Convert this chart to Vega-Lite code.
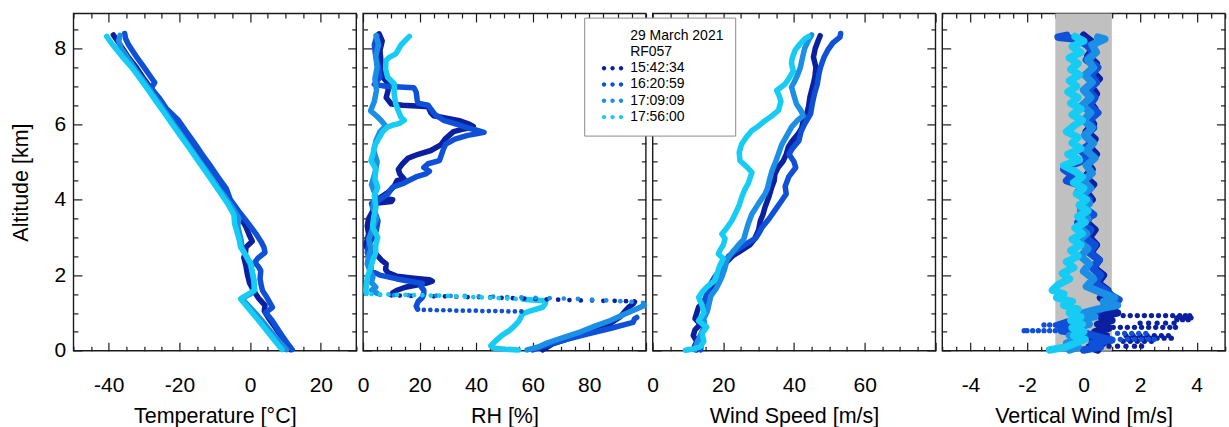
{
"$schema": "https://vega.github.io/schema/vega-lite/v6.json",
"padding": {"left": 9.4, "top": 11.4, "right": 2, "bottom": 2},
"bounds": "flush",
"spacing": 6.6,
"resolve": {"scale": {"color": "shared"}, "legend": {"color": "shared"}},
"config": {
 "view": {"stroke": "#1a1a1a", "strokeWidth": 1.4},
 "font": "Liberation Sans",
 "axis": {"grid": false, "domain": false, "labelFont": "Liberation Sans", "labelFontSize": 21, "labelColor": "#000", "titleFont": "Liberation Sans", "titleFontSize": 21.5, "titleFontWeight": "normal", "titleColor": "#000", "tickColor": "#1a1a1a", "tickWidth": 1.2, "labelFlush": false, "labelOverlap": false},
 "legend": {"orient": "none", "legendX": 510.8, "legendY": 4.2, "padding": 11, "strokeColor": "#8c8c8c", "fillColor": "#ffffff", "labelFont": "Liberation Sans", "labelFontSize": 14, "labelColor": "#000", "symbolType": "M-0.824,0A0.17,0.17,0,1,0,-0.484,0A0.17,0.17,0,1,0,-0.824,0ZM-0.17,0A0.17,0.17,0,1,0,0.17,0A0.17,0.17,0,1,0,-0.17,0ZM0.484,0A0.17,0.17,0,1,0,0.824,0A0.17,0.17,0,1,0,0.484,0Z", "symbolSize": 676, "symbolStrokeWidth": 0, "symbolOffset": 4.35, "labelOffset": 4.6, "clipHeight": 14, "rowPadding": 2.3}
},
"datasets": {
"T": [
{"k":"a","z":8.36,"v":-38.7},{"k":"a","z":8.1,"v":-36.8},{"k":"a","z":7.8,"v":-34.7},{"k":"a","z":7.5,"v":-32.2},{"k":"a","z":7.2,"v":-30.1},{"k":"a","z":6.9,"v":-27.7},{"k":"a","z":6.6,"v":-25.6},{"k":"a","z":6.3,"v":-23.1},{"k":"a","z":6.0,"v":-21.1},{"k":"a","z":5.7,"v":-18.6},{"k":"a","z":5.4,"v":-16.5},{"k":"a","z":5.1,"v":-14.0},{"k":"a","z":4.8,"v":-11.9},{"k":"a","z":4.5,"v":-9.7},{"k":"a","z":4.2,"v":-7.5},{"k":"a","z":3.9,"v":-5.3},{"k":"a","z":3.6,"v":-3.2},{"k":"a","z":3.3,"v":-1.3},{"k":"a","z":3.05,"v":-0.2},{"k":"a","z":2.9,"v":0.6},{"k":"a","z":2.74,"v":-1.2},{"k":"a","z":2.6,"v":-1.3},{"k":"a","z":2.47,"v":-1.8},{"k":"a","z":2.25,"v":-1.2},{"k":"a","z":2.03,"v":-0.8},{"k":"a","z":1.8,"v":-0.2},{"k":"a","z":1.6,"v":0.9},{"k":"a","z":1.4,"v":2.3},{"k":"a","z":1.2,"v":4.2},{"k":"a","z":1.05,"v":4.0},{"k":"a","z":0.85,"v":5.3},{"k":"a","z":0.6,"v":7.2},{"k":"a","z":0.4,"v":8.6},{"k":"a","z":0.2,"v":10.0},{"k":"a","z":0.03,"v":11.4},
{"k":"b","z":8.4,"v":-35.5},{"k":"b","z":8.25,"v":-35.2},{"k":"b","z":8.1,"v":-34.4},{"k":"b","z":7.8,"v":-32.3},{"k":"b","z":7.5,"v":-30.0},{"k":"b","z":7.3,"v":-28.5},{"k":"b","z":7.1,"v":-27.0},{"k":"b","z":6.95,"v":-28.0},{"k":"b","z":6.7,"v":-25.8},{"k":"b","z":6.4,"v":-23.6},{"k":"b","z":6.1,"v":-20.3},{"k":"b","z":5.8,"v":-18.1},{"k":"b","z":5.5,"v":-15.8},{"k":"b","z":5.2,"v":-13.6},{"k":"b","z":4.9,"v":-11.3},{"k":"b","z":4.6,"v":-9.1},{"k":"b","z":4.3,"v":-6.8},{"k":"b","z":4.0,"v":-5.6},{"k":"b","z":3.7,"v":-3.3},{"k":"b","z":3.4,"v":-0.8},{"k":"b","z":3.1,"v":1.6},{"k":"b","z":2.9,"v":3.0},{"k":"b","z":2.74,"v":3.9},{"k":"b","z":2.6,"v":4.2},{"k":"b","z":2.45,"v":2.2},{"k":"b","z":2.34,"v":1.3},{"k":"b","z":2.2,"v":2.5},{"k":"b","z":2.12,"v":3.0},{"k":"b","z":1.9,"v":2.8},{"k":"b","z":1.7,"v":3.2},{"k":"b","z":1.59,"v":3.5},{"k":"b","z":1.4,"v":4.8},{"k":"b","z":1.15,"v":6.3},{"k":"b","z":1.01,"v":4.4},{"k":"b","z":0.8,"v":6.2},{"k":"b","z":0.6,"v":7.6},{"k":"b","z":0.4,"v":9.0},{"k":"b","z":0.2,"v":10.5},{"k":"b","z":0.03,"v":11.9},
{"k":"c","z":8.35,"v":-36.8},{"k":"c","z":8.2,"v":-37.2},{"k":"c","z":8.0,"v":-36.5},{"k":"c","z":7.7,"v":-34.3},{"k":"c","z":7.4,"v":-32.1},{"k":"c","z":7.1,"v":-29.8},{"k":"c","z":6.8,"v":-27.6},{"k":"c","z":6.5,"v":-25.3},{"k":"c","z":6.2,"v":-23.1},{"k":"c","z":5.9,"v":-20.8},{"k":"c","z":5.6,"v":-18.6},{"k":"c","z":5.3,"v":-16.3},{"k":"c","z":5.0,"v":-14.1},{"k":"c","z":4.7,"v":-11.8},{"k":"c","z":4.4,"v":-9.6},{"k":"c","z":4.1,"v":-7.3},{"k":"c","z":3.8,"v":-5.1},{"k":"c","z":3.5,"v":-3.2},{"k":"c","z":3.3,"v":-3.5},{"k":"c","z":3.1,"v":-3.0},{"k":"c","z":2.9,"v":-2.5},{"k":"c","z":2.74,"v":-2.4},{"k":"c","z":2.5,"v":-1.2},{"k":"c","z":2.3,"v":0.0},{"k":"c","z":2.1,"v":0.5},{"k":"c","z":1.85,"v":1.0},{"k":"c","z":1.6,"v":1.3},{"k":"c","z":1.5,"v":0.0},{"k":"c","z":1.42,"v":-1.6},{"k":"c","z":1.37,"v":-2.3},{"k":"c","z":1.2,"v":-0.6},{"k":"c","z":1.0,"v":1.4},{"k":"c","z":0.8,"v":3.3},{"k":"c","z":0.6,"v":5.0},{"k":"c","z":0.4,"v":6.8},{"k":"c","z":0.2,"v":8.6},{"k":"c","z":0.03,"v":10.3},
{"k":"d","z":8.32,"v":-40.6},{"k":"d","z":8.1,"v":-38.9},{"k":"d","z":7.8,"v":-36.3},{"k":"d","z":7.5,"v":-33.5},{"k":"d","z":7.2,"v":-31.1},{"k":"d","z":6.9,"v":-28.8},{"k":"d","z":6.6,"v":-26.6},{"k":"d","z":6.3,"v":-24.3},{"k":"d","z":6.0,"v":-22.1},{"k":"d","z":5.7,"v":-19.8},{"k":"d","z":5.4,"v":-17.5},{"k":"d","z":5.1,"v":-15.3},{"k":"d","z":4.8,"v":-13.0},{"k":"d","z":4.5,"v":-10.8},{"k":"d","z":4.2,"v":-8.6},{"k":"d","z":3.9,"v":-6.4},{"k":"d","z":3.6,"v":-4.6},{"k":"d","z":3.36,"v":-4.4},{"k":"d","z":3.1,"v":-3.6},{"k":"d","z":2.9,"v":-3.0},{"k":"d","z":2.74,"v":-2.7},{"k":"d","z":2.5,"v":-1.0},{"k":"d","z":2.3,"v":0.2},{"k":"d","z":2.1,"v":0.6},{"k":"d","z":1.85,"v":1.1},{"k":"d","z":1.6,"v":1.2},{"k":"d","z":1.5,"v":-0.5},{"k":"d","z":1.42,"v":-2.0},{"k":"d","z":1.37,"v":-2.7},{"k":"d","z":1.2,"v":-1.2},{"k":"d","z":1.0,"v":0.6},{"k":"d","z":0.8,"v":2.4},{"k":"d","z":0.6,"v":4.1},{"k":"d","z":0.4,"v":5.8},{"k":"d","z":0.2,"v":7.5},{"k":"d","z":0.03,"v":9.0}
],
"RH": [
{"k":"a","z":8.39,"v":5.7},{"k":"a","z":8.2,"v":6.8},{"k":"a","z":7.95,"v":6.0},{"k":"a","z":7.7,"v":6.3},{"k":"a","z":7.45,"v":7.3},{"k":"a","z":7.24,"v":7.0},{"k":"a","z":7.1,"v":8.6},{"k":"a","z":6.9,"v":8.9},{"k":"a","z":6.7,"v":8.2},{"k":"a","z":6.53,"v":10.0},{"k":"a","z":6.5,"v":14.0},{"k":"a","z":6.48,"v":19.0},{"k":"a","z":6.46,"v":23.0},{"k":"a","z":6.3,"v":24.0},{"k":"a","z":6.22,"v":25.0},{"k":"a","z":6.15,"v":30.0},{"k":"a","z":6.08,"v":34.5},{"k":"a","z":6.0,"v":37.5},{"k":"a","z":5.94,"v":39.0},{"k":"a","z":5.9,"v":38.0},{"k":"a","z":5.86,"v":35.0},{"k":"a","z":5.8,"v":32.0},{"k":"a","z":5.6,"v":29.0},{"k":"a","z":5.45,"v":27.5},{"k":"a","z":5.3,"v":24.0},{"k":"a","z":5.2,"v":19.5},{"k":"a","z":5.1,"v":16.0},{"k":"a","z":4.95,"v":14.0},{"k":"a","z":4.8,"v":12.5},{"k":"a","z":4.68,"v":13.0},{"k":"a","z":4.55,"v":14.5},{"k":"a","z":4.5,"v":12.0},{"k":"a","z":4.35,"v":11.0},{"k":"a","z":4.2,"v":9.0},{"k":"a","z":4.05,"v":6.0},{"k":"a","z":4.0,"v":10.5},{"k":"a","z":3.95,"v":10.0},{"k":"a","z":3.9,"v":4.5},{"k":"a","z":3.7,"v":3.5},{"k":"a","z":3.5,"v":2.0},{"k":"a","z":3.3,"v":1.5},{"k":"a","z":3.09,"v":2.0},{"k":"a","z":2.8,"v":1.0},{"k":"a","z":2.6,"v":2.0},{"k":"a","z":2.56,"v":4.6},{"k":"a","z":2.4,"v":6.5},{"k":"a","z":2.3,"v":8.2},{"k":"a","z":2.15,"v":8.0},{"k":"a","z":2.07,"v":8.8},{"k":"a","z":1.97,"v":12.0},{"k":"a","z":1.92,"v":18.0},{"k":"a","z":1.88,"v":23.5},{"k":"a","z":1.84,"v":24.5},{"k":"a","z":1.8,"v":23.0},{"k":"a","z":1.74,"v":19.0},{"k":"a","z":1.68,"v":15.0},{"k":"a","z":1.6,"v":12.0},{"k":"a","z":1.53,"v":10.5},{"k":"a","z":1.48,"v":10.0},
{"k":"a","g":1,"z":1.29,"v":96.0},{"k":"a","g":1,"z":1.24,"v":95.5},{"k":"a","g":1,"z":1.15,"v":94.0},{"k":"a","g":1,"z":1.06,"v":92.8},{"k":"a","g":1,"z":0.9,"v":91.0},{"k":"a","g":1,"z":0.7,"v":87.0},{"k":"a","g":1,"z":0.53,"v":82.2},{"k":"a","g":1,"z":0.35,"v":74.0},{"k":"a","g":1,"z":0.18,"v":67.0},{"k":"a","g":1,"z":0.02,"v":63.5},
{"k":"b","z":8.35,"v":5.0},{"k":"b","z":8.1,"v":4.0},{"k":"b","z":7.8,"v":4.5},{"k":"b","z":7.5,"v":5.5},{"k":"b","z":7.24,"v":6.0},{"k":"b","z":7.05,"v":4.0},{"k":"b","z":7.0,"v":8.0},{"k":"b","z":6.98,"v":13.0},{"k":"b","z":6.96,"v":18.0},{"k":"b","z":6.85,"v":18.8},{"k":"b","z":6.62,"v":19.2},{"k":"b","z":6.55,"v":19.5},{"k":"b","z":6.5,"v":23.0},{"k":"b","z":6.35,"v":24.5},{"k":"b","z":6.25,"v":25.5},{"k":"b","z":6.1,"v":28.5},{"k":"b","z":6.0,"v":33.0},{"k":"b","z":5.9,"v":37.0},{"k":"b","z":5.83,"v":40.5},{"k":"b","z":5.78,"v":42.8},{"k":"b","z":5.74,"v":40.0},{"k":"b","z":5.7,"v":37.0},{"k":"b","z":5.6,"v":32.5},{"k":"b","z":5.47,"v":29.3},{"k":"b","z":5.35,"v":28.5},{"k":"b","z":5.2,"v":27.8},{"k":"b","z":5.03,"v":27.0},{"k":"b","z":4.95,"v":23.0},{"k":"b","z":4.85,"v":21.5},{"k":"b","z":4.75,"v":23.5},{"k":"b","z":4.68,"v":22.2},{"k":"b","z":4.6,"v":18.7},{"k":"b","z":4.48,"v":15.5},{"k":"b","z":4.42,"v":14.0},{"k":"b","z":4.33,"v":10.5},{"k":"b","z":4.15,"v":8.8},{"k":"b","z":4.0,"v":5.9},{"k":"b","z":3.9,"v":3.0},{"k":"b","z":3.77,"v":3.5},{"k":"b","z":3.6,"v":4.5},{"k":"b","z":3.44,"v":5.3},{"k":"b","z":3.18,"v":4.7},{"k":"b","z":3.0,"v":3.5},{"k":"b","z":2.8,"v":2.0},{"k":"b","z":2.6,"v":1.5},{"k":"b","z":2.4,"v":2.5},{"k":"b","z":2.25,"v":2.8},{"k":"b","z":2.12,"v":2.8},{"k":"b","z":2.0,"v":6.0},{"k":"b","z":1.9,"v":12.0},{"k":"b","z":1.82,"v":18.0},{"k":"b","z":1.78,"v":21.0},{"k":"b","z":1.7,"v":20.5},{"k":"b","z":1.6,"v":21.5},{"k":"b","z":1.5,"v":21.5},{"k":"b","z":1.41,"v":21.0},{"k":"b","z":1.3,"v":19.5},{"k":"b","z":1.18,"v":18.8},{"k":"b","z":1.1,"v":19.3},
{"k":"b","g":1,"z":0.88,"v":96.8},{"k":"b","g":1,"z":0.84,"v":96.0},{"k":"b","g":1,"z":0.75,"v":95.5},{"k":"b","g":1,"z":0.6,"v":88.0},{"k":"b","g":1,"z":0.45,"v":80.0},{"k":"b","g":1,"z":0.3,"v":72.0},{"k":"b","g":1,"z":0.15,"v":65.0},{"k":"b","g":1,"z":0.02,"v":60.0},
{"k":"c","z":8.34,"v":4.6},{"k":"c","z":8.1,"v":5.5},{"k":"c","z":7.8,"v":4.5},{"k":"c","z":7.5,"v":5.0},{"k":"c","z":7.2,"v":4.2},{"k":"c","z":6.9,"v":4.8},{"k":"c","z":6.6,"v":4.0},{"k":"c","z":6.35,"v":2.7},{"k":"c","z":6.2,"v":5.0},{"k":"c","z":6.09,"v":6.5},{"k":"c","z":5.95,"v":8.0},{"k":"c","z":5.8,"v":6.0},{"k":"c","z":5.56,"v":4.6},{"k":"c","z":5.3,"v":3.8},{"k":"c","z":5.0,"v":5.0},{"k":"c","z":4.7,"v":4.2},{"k":"c","z":4.4,"v":3.0},{"k":"c","z":4.1,"v":4.5},{"k":"c","z":3.8,"v":3.5},{"k":"c","z":3.5,"v":4.8},{"k":"c","z":3.2,"v":3.2},{"k":"c","z":2.95,"v":2.0},{"k":"c","z":2.7,"v":2.8},{"k":"c","z":2.5,"v":2.0},{"k":"c","z":2.3,"v":1.5},{"k":"c","z":2.1,"v":2.5},{"k":"c","z":1.95,"v":3.5},{"k":"c","z":1.8,"v":3.0},{"k":"c","z":1.68,"v":4.5},{"k":"c","z":1.6,"v":3.0},{"k":"c","z":1.52,"v":5.0},
{"k":"c","g":1,"z":1.2,"v":99.5},{"k":"c","g":1,"z":1.1,"v":96.5},{"k":"c","g":1,"z":0.95,"v":92.0},{"k":"c","g":1,"z":0.8,"v":87.5},{"k":"c","g":1,"z":0.65,"v":82.0},{"k":"c","g":1,"z":0.5,"v":77.0},{"k":"c","g":1,"z":0.35,"v":71.0},{"k":"c","g":1,"z":0.2,"v":65.0},{"k":"c","g":1,"z":0.1,"v":62.0},{"k":"c","g":1,"z":0.02,"v":58.0},
{"k":"d","z":8.32,"v":16.4},{"k":"d","z":8.1,"v":13.5},{"k":"d","z":7.86,"v":11.6},{"k":"d","z":7.75,"v":9.0},{"k":"d","z":7.68,"v":8.1},{"k":"d","z":7.45,"v":8.0},{"k":"d","z":7.24,"v":8.7},{"k":"d","z":7.06,"v":11.1},{"k":"d","z":6.8,"v":11.0},{"k":"d","z":6.53,"v":11.6},{"k":"d","z":6.35,"v":12.5},{"k":"d","z":6.18,"v":13.4},{"k":"d","z":6.1,"v":14.6},{"k":"d","z":6.02,"v":13.0},{"k":"d","z":5.97,"v":10.5},{"k":"d","z":5.92,"v":8.7},{"k":"d","z":5.8,"v":7.0},{"k":"d","z":5.65,"v":5.8},{"k":"d","z":5.42,"v":4.1},{"k":"d","z":5.2,"v":3.5},{"k":"d","z":5.03,"v":2.8},{"k":"d","z":4.8,"v":4.6},{"k":"d","z":4.55,"v":4.2},{"k":"d","z":4.33,"v":5.2},{"k":"d","z":4.1,"v":4.0},{"k":"d","z":3.8,"v":4.6},{"k":"d","z":3.55,"v":3.8},{"k":"d","z":3.27,"v":3.4},{"k":"d","z":3.0,"v":5.2},{"k":"d","z":2.8,"v":4.5},{"k":"d","z":2.6,"v":4.5},{"k":"d","z":2.4,"v":3.5},{"k":"d","z":2.2,"v":2.7},{"k":"d","z":1.94,"v":1.5},{"k":"d","z":1.75,"v":1.2},{"k":"d","z":1.59,"v":1.0},{"k":"d","z":1.52,"v":1.2},
{"k":"d","g":1,"z":1.36,"v":56.5},{"k":"d","g":1,"z":1.34,"v":60.0},{"k":"d","g":1,"z":1.32,"v":64.6},{"k":"d","g":1,"z":1.25,"v":64.5},{"k":"d","g":1,"z":1.15,"v":63.5},{"k":"d","g":1,"z":1.05,"v":59.0},{"k":"d","g":1,"z":0.97,"v":56.4},{"k":"d","g":1,"z":0.79,"v":55.2},{"k":"d","g":1,"z":0.65,"v":53.5},{"k":"d","g":1,"z":0.53,"v":51.7},{"k":"d","g":1,"z":0.4,"v":49.0},{"k":"d","g":1,"z":0.26,"v":46.9},{"k":"d","g":1,"z":0.13,"v":45.2},{"k":"d","g":1,"z":0.07,"v":46.0},{"k":"d","g":1,"z":0.04,"v":50.0},{"k":"d","g":1,"z":0.02,"v":55.0}
],
"RHdots": [
{"k":"a","z":1.46,"v":13},{"k":"a","z":1.45,"v":17},{"k":"a","z":1.45,"v":21},{"k":"a","z":1.44,"v":25},{"k":"a","z":1.44,"v":29},{"k":"a","z":1.43,"v":33},{"k":"a","z":1.42,"v":37},{"k":"a","z":1.42,"v":41},{"k":"a","z":1.41,"v":45},{"k":"a","z":1.4,"v":49},{"k":"a","z":1.39,"v":53},{"k":"a","z":1.38,"v":57},{"k":"a","z":1.37,"v":61},{"k":"a","z":1.36,"v":65},{"k":"a","z":1.35,"v":69},{"k":"a","z":1.34,"v":73},{"k":"a","z":1.33,"v":77},{"k":"a","z":1.33,"v":81},{"k":"a","z":1.32,"v":85},{"k":"a","z":1.32,"v":89},{"k":"a","z":1.31,"v":93},
{"k":"b","z":1.08,"v":21.5},{"k":"b","z":1.08,"v":23.8},{"k":"b","z":1.07,"v":26.1},{"k":"b","z":1.07,"v":28.4},{"k":"b","z":1.07,"v":30.7},{"k":"b","z":1.06,"v":33},{"k":"b","z":1.06,"v":35.3},{"k":"b","z":1.06,"v":37.6},{"k":"b","z":1.06,"v":39.9},{"k":"b","z":1.05,"v":42.2},{"k":"b","z":1.05,"v":44.5},{"k":"b","z":1.05,"v":46.8},{"k":"b","z":1.05,"v":49.1},{"k":"b","z":1.04,"v":51.4},{"k":"b","z":1.04,"v":53.7},{"k":"b","z":1.04,"v":56},
{"k":"c","z":1.48,"v":6},{"k":"c","z":1.47,"v":11},{"k":"c","z":1.47,"v":16},{"k":"c","z":1.46,"v":21},{"k":"c","z":1.46,"v":26},{"k":"c","z":1.45,"v":31},{"k":"c","z":1.45,"v":36},{"k":"c","z":1.44,"v":41},{"k":"c","z":1.43,"v":46},{"k":"c","z":1.42,"v":51},{"k":"c","z":1.41,"v":56},{"k":"c","z":1.4,"v":61},{"k":"c","z":1.39,"v":66},{"k":"c","z":1.38,"v":71},{"k":"c","z":1.37,"v":76},{"k":"c","z":1.35,"v":81},{"k":"c","z":1.33,"v":86},{"k":"c","z":1.31,"v":91},{"k":"c","z":1.29,"v":95},{"k":"c","z":1.27,"v":99},
{"k":"d","z":1.5,"v":3},{"k":"d","z":1.49,"v":6},{"k":"d","z":1.49,"v":9},{"k":"d","z":1.48,"v":12},{"k":"d","z":1.48,"v":15},{"k":"d","z":1.47,"v":18},{"k":"d","z":1.47,"v":21},{"k":"d","z":1.46,"v":24},{"k":"d","z":1.46,"v":27},{"k":"d","z":1.45,"v":30},{"k":"d","z":1.44,"v":33},{"k":"d","z":1.43,"v":36},{"k":"d","z":1.42,"v":39},{"k":"d","z":1.41,"v":42},{"k":"d","z":1.4,"v":45},{"k":"d","z":1.39,"v":48},{"k":"d","z":1.38,"v":51},{"k":"d","z":1.37,"v":54}
],
"WS": [
{"k":"a","z":8.34,"v":47.4},{"k":"a","z":8.2,"v":46.8},{"k":"a","z":8.0,"v":46.0},{"k":"a","z":7.77,"v":45.5},{"k":"a","z":7.5,"v":46.2},{"k":"a","z":7.24,"v":45.9},{"k":"a","z":7.0,"v":45.3},{"k":"a","z":6.71,"v":44.5},{"k":"a","z":6.45,"v":44.1},{"k":"a","z":6.25,"v":43.5},{"k":"a","z":6.09,"v":42.6},{"k":"a","z":5.9,"v":42.2},{"k":"a","z":5.74,"v":41.2},{"k":"a","z":5.55,"v":39.5},{"k":"a","z":5.39,"v":38.4},{"k":"a","z":5.2,"v":37.8},{"k":"a","z":5.03,"v":37.0},{"k":"a","z":4.85,"v":35.5},{"k":"a","z":4.68,"v":34.6},{"k":"a","z":4.5,"v":34.4},{"k":"a","z":4.33,"v":33.7},{"k":"a","z":4.1,"v":33.0},{"k":"a","z":3.8,"v":31.8},{"k":"a","z":3.6,"v":31.2},{"k":"a","z":3.44,"v":30.5},{"k":"a","z":3.2,"v":30.0},{"k":"a","z":2.95,"v":28.8},{"k":"a","z":2.8,"v":27.5},{"k":"a","z":2.65,"v":25.0},{"k":"a","z":2.5,"v":22.5},{"k":"a","z":2.35,"v":21.0},{"k":"a","z":2.2,"v":19.6},{"k":"a","z":2.0,"v":18.0},{"k":"a","z":1.85,"v":17.5},{"k":"a","z":1.68,"v":16.7},{"k":"a","z":1.5,"v":15.5},{"k":"a","z":1.3,"v":14.5},{"k":"a","z":1.15,"v":13.0},{"k":"a","z":1.0,"v":12.5},{"k":"a","z":0.85,"v":12.0},{"k":"a","z":0.7,"v":13.5},{"k":"a","z":0.55,"v":12.0},{"k":"a","z":0.4,"v":11.5},{"k":"a","z":0.25,"v":12.5},{"k":"a","z":0.1,"v":11.8},{"k":"a","z":0.02,"v":12.5},
{"k":"b","z":8.4,"v":53.2},{"k":"b","z":8.3,"v":53.0},{"k":"b","z":8.15,"v":51.0},{"k":"b","z":7.95,"v":49.5},{"k":"b","z":7.77,"v":48.5},{"k":"b","z":7.5,"v":47.5},{"k":"b","z":7.3,"v":47.0},{"k":"b","z":7.06,"v":46.6},{"k":"b","z":6.8,"v":45.8},{"k":"b","z":6.55,"v":45.2},{"k":"b","z":6.27,"v":44.7},{"k":"b","z":6.0,"v":43.0},{"k":"b","z":5.8,"v":42.0},{"k":"b","z":5.56,"v":41.4},{"k":"b","z":5.35,"v":39.5},{"k":"b","z":5.2,"v":38.6},{"k":"b","z":5.0,"v":40.0},{"k":"b","z":4.85,"v":40.5},{"k":"b","z":4.6,"v":38.5},{"k":"b","z":4.35,"v":37.5},{"k":"b","z":4.15,"v":37.8},{"k":"b","z":3.97,"v":36.5},{"k":"b","z":3.7,"v":34.5},{"k":"b","z":3.5,"v":33.0},{"k":"b","z":3.27,"v":31.0},{"k":"b","z":3.1,"v":30.0},{"k":"b","z":2.98,"v":29.2},{"k":"b","z":2.8,"v":26.0},{"k":"b","z":2.65,"v":23.5},{"k":"b","z":2.5,"v":21.5},{"k":"b","z":2.35,"v":20.5},{"k":"b","z":2.15,"v":19.5},{"k":"b","z":1.94,"v":17.5},{"k":"b","z":1.7,"v":16.0},{"k":"b","z":1.55,"v":15.5},{"k":"b","z":1.4,"v":15.0},{"k":"b","z":1.2,"v":14.5},{"k":"b","z":1.0,"v":15.0},{"k":"b","z":0.8,"v":13.8},{"k":"b","z":0.6,"v":14.5},{"k":"b","z":0.4,"v":13.5},{"k":"b","z":0.2,"v":13.8},{"k":"b","z":0.02,"v":13.6},
{"k":"c","z":8.36,"v":45.0},{"k":"c","z":8.2,"v":44.0},{"k":"c","z":8.0,"v":43.0},{"k":"c","z":7.8,"v":42.5},{"k":"c","z":7.5,"v":41.8},{"k":"c","z":7.3,"v":41.0},{"k":"c","z":7.1,"v":40.0},{"k":"c","z":6.98,"v":39.3},{"k":"c","z":6.75,"v":40.0},{"k":"c","z":6.53,"v":40.7},{"k":"c","z":6.35,"v":42.0},{"k":"c","z":6.22,"v":42.6},{"k":"c","z":6.1,"v":41.0},{"k":"c","z":5.92,"v":39.3},{"k":"c","z":5.7,"v":38.0},{"k":"c","z":5.45,"v":36.5},{"k":"c","z":5.21,"v":35.6},{"k":"c","z":5.0,"v":34.8},{"k":"c","z":4.77,"v":33.8},{"k":"c","z":4.5,"v":33.0},{"k":"c","z":4.3,"v":32.5},{"k":"c","z":4.15,"v":31.8},{"k":"c","z":3.9,"v":30.0},{"k":"c","z":3.62,"v":28.1},{"k":"c","z":3.35,"v":27.0},{"k":"c","z":3.09,"v":26.2},{"k":"c","z":2.95,"v":25.8},{"k":"c","z":2.8,"v":24.3},{"k":"c","z":2.6,"v":22.5},{"k":"c","z":2.4,"v":21.0},{"k":"c","z":2.2,"v":20.5},{"k":"c","z":2.0,"v":19.8},{"k":"c","z":1.85,"v":19.1},{"k":"c","z":1.65,"v":18.0},{"k":"c","z":1.45,"v":16.5},{"k":"c","z":1.25,"v":16.0},{"k":"c","z":1.05,"v":15.5},{"k":"c","z":0.85,"v":14.5},{"k":"c","z":0.62,"v":14.8},{"k":"c","z":0.4,"v":13.5},{"k":"c","z":0.2,"v":12.5},{"k":"c","z":0.02,"v":12.0},
{"k":"d","z":8.32,"v":44.1},{"k":"d","z":8.25,"v":43.0},{"k":"d","z":8.1,"v":41.5},{"k":"d","z":7.95,"v":40.3},{"k":"d","z":7.75,"v":39.5},{"k":"d","z":7.6,"v":39.3},{"k":"d","z":7.4,"v":39.8},{"k":"d","z":7.2,"v":38.5},{"k":"d","z":7.06,"v":37.5},{"k":"d","z":6.89,"v":35.1},{"k":"d","z":6.75,"v":35.8},{"k":"d","z":6.6,"v":36.3},{"k":"d","z":6.36,"v":35.6},{"k":"d","z":6.2,"v":33.5},{"k":"d","z":6.09,"v":31.8},{"k":"d","z":5.95,"v":30.0},{"k":"d","z":5.83,"v":28.1},{"k":"d","z":5.65,"v":26.5},{"k":"d","z":5.47,"v":25.2},{"k":"d","z":5.25,"v":24.5},{"k":"d","z":5.03,"v":24.7},{"k":"d","z":4.88,"v":26.5},{"k":"d","z":4.72,"v":28.1},{"k":"d","z":4.55,"v":27.5},{"k":"d","z":4.42,"v":27.0},{"k":"d","z":4.25,"v":26.0},{"k":"d","z":4.06,"v":25.2},{"k":"d","z":3.85,"v":24.5},{"k":"d","z":3.65,"v":23.5},{"k":"d","z":3.44,"v":22.4},{"k":"d","z":3.25,"v":21.0},{"k":"d","z":3.09,"v":19.6},{"k":"d","z":2.97,"v":20.5},{"k":"d","z":2.8,"v":20.0},{"k":"d","z":2.65,"v":19.0},{"k":"d","z":2.56,"v":18.6},{"k":"d","z":2.44,"v":20.0},{"k":"d","z":2.25,"v":19.0},{"k":"d","z":2.03,"v":18.2},{"k":"d","z":1.85,"v":17.5},{"k":"d","z":1.68,"v":15.3},{"k":"d","z":1.55,"v":14.0},{"k":"d","z":1.41,"v":13.0},{"k":"d","z":1.2,"v":14.0},{"k":"d","z":1.0,"v":14.5},{"k":"d","z":0.79,"v":13.0},{"k":"d","z":0.62,"v":15.3},{"k":"d","z":0.45,"v":14.0},{"k":"d","z":0.25,"v":14.5},{"k":"d","z":0.1,"v":13.5},{"k":"d","z":0.04,"v":11.0},{"k":"d","z":0.01,"v":9.3}
],
"VW": [
{"k":"a","z":8.35,"v":0.0},{"k":"a","z":8.2,"v":0.25},{"k":"a","z":8.0,"v":0.35},{"k":"a","z":7.8,"v":0.15},{"k":"a","z":7.6,"v":0.45},{"k":"a","z":7.4,"v":0.3},{"k":"a","z":7.2,"v":0.55},{"k":"a","z":7.0,"v":0.25},{"k":"a","z":6.8,"v":0.45},{"k":"a","z":6.6,"v":0.2},{"k":"a","z":6.4,"v":0.4},{"k":"a","z":6.2,"v":0.15},{"k":"a","z":6.0,"v":0.35},{"k":"a","z":5.8,"v":0.1},{"k":"a","z":5.6,"v":0.4},{"k":"a","z":5.4,"v":0.2},{"k":"a","z":5.2,"v":0.45},{"k":"a","z":5.0,"v":0.1},{"k":"a","z":4.8,"v":0.3},{"k":"a","z":4.6,"v":0.05},{"k":"a","z":4.4,"v":0.35},{"k":"a","z":4.2,"v":0.1},{"k":"a","z":4.0,"v":0.3},{"k":"a","z":3.8,"v":-0.1},{"k":"a","z":3.6,"v":0.25},{"k":"a","z":3.4,"v":0.1},{"k":"a","z":3.2,"v":0.4},{"k":"a","z":3.0,"v":0.2},{"k":"a","z":2.8,"v":0.45},{"k":"a","z":2.6,"v":0.25},{"k":"a","z":2.4,"v":0.55},{"k":"a","z":2.2,"v":0.35},{"k":"a","z":2.0,"v":0.7},{"k":"a","z":1.8,"v":0.5},{"k":"a","z":1.6,"v":0.85},{"k":"a","z":1.4,"v":0.6},{"k":"a","z":1.25,"v":1.0},{"k":"a","z":1.1,"v":0.7},{"k":"a","z":1.0,"v":1.2},{"k":"a","z":0.9,"v":0.6},{"k":"a","z":0.8,"v":1.0},{"k":"a","z":0.7,"v":0.5},{"k":"a","z":0.6,"v":0.9},{"k":"a","z":0.5,"v":0.4},{"k":"a","z":0.4,"v":0.8},{"k":"a","z":0.3,"v":0.3},{"k":"a","z":0.2,"v":0.7},{"k":"a","z":0.1,"v":0.2},{"k":"a","z":0.02,"v":0.5},
{"k":"b","z":8.35,"v":-0.6},{"k":"b","z":8.3,"v":-0.9},{"k":"b","z":8.25,"v":-0.3},{"k":"b","z":8.1,"v":0.1},{"k":"b","z":7.9,"v":0.35},{"k":"b","z":7.7,"v":0.1},{"k":"b","z":7.5,"v":0.5},{"k":"b","z":7.3,"v":0.25},{"k":"b","z":7.1,"v":0.45},{"k":"b","z":6.9,"v":0.15},{"k":"b","z":6.7,"v":0.4},{"k":"b","z":6.5,"v":0.2},{"k":"b","z":6.3,"v":0.5},{"k":"b","z":6.1,"v":0.2},{"k":"b","z":5.9,"v":0.35},{"k":"b","z":5.7,"v":0.05},{"k":"b","z":5.5,"v":0.3},{"k":"b","z":5.3,"v":-0.1},{"k":"b","z":5.1,"v":0.2},{"k":"b","z":4.95,"v":-0.3},{"k":"b","z":4.8,"v":-0.7},{"k":"b","z":4.65,"v":-0.4},{"k":"b","z":4.5,"v":-0.6},{"k":"b","z":4.35,"v":0.0},{"k":"b","z":4.2,"v":-0.2},{"k":"b","z":4.0,"v":0.2},{"k":"b","z":3.8,"v":0.0},{"k":"b","z":3.6,"v":0.35},{"k":"b","z":3.4,"v":-0.2},{"k":"b","z":3.2,"v":0.25},{"k":"b","z":3.0,"v":0.05},{"k":"b","z":2.8,"v":0.4},{"k":"b","z":2.6,"v":0.2},{"k":"b","z":2.4,"v":0.55},{"k":"b","z":2.2,"v":0.3},{"k":"b","z":2.0,"v":0.6},{"k":"b","z":1.8,"v":0.4},{"k":"b","z":1.6,"v":0.8},{"k":"b","z":1.45,"v":1.0},{"k":"b","z":1.35,"v":1.25},{"k":"b","z":1.25,"v":0.9},{"k":"b","z":1.1,"v":0.6},{"k":"b","z":0.95,"v":0.2},{"k":"b","z":0.8,"v":-0.4},{"k":"b","z":0.67,"v":-0.9},{"k":"b","z":0.6,"v":-0.3},{"k":"b","z":0.53,"v":-0.8},{"k":"b","z":0.45,"v":0.1},{"k":"b","z":0.35,"v":0.6},{"k":"b","z":0.28,"v":1.0},{"k":"b","z":0.2,"v":0.3},{"k":"b","z":0.1,"v":0.6},{"k":"b","z":0.02,"v":0.0},
{"k":"c","z":8.3,"v":0.5},{"k":"c","z":8.25,"v":0.75},{"k":"c","z":8.1,"v":0.3},{"k":"c","z":7.9,"v":0.45},{"k":"c","z":7.7,"v":0.15},{"k":"c","z":7.5,"v":0.35},{"k":"c","z":7.3,"v":0.05},{"k":"c","z":7.1,"v":0.3},{"k":"c","z":6.9,"v":0.0},{"k":"c","z":6.7,"v":0.25},{"k":"c","z":6.5,"v":-0.05},{"k":"c","z":6.3,"v":0.25},{"k":"c","z":6.1,"v":0.0},{"k":"c","z":5.9,"v":0.3},{"k":"c","z":5.7,"v":0.05},{"k":"c","z":5.5,"v":0.35},{"k":"c","z":5.3,"v":0.1},{"k":"c","z":5.1,"v":0.4},{"k":"c","z":4.9,"v":0.1},{"k":"c","z":4.7,"v":0.3},{"k":"c","z":4.5,"v":0.0},{"k":"c","z":4.3,"v":0.25},{"k":"c","z":4.1,"v":-0.1},{"k":"c","z":3.9,"v":0.2},{"k":"c","z":3.7,"v":-0.1},{"k":"c","z":3.5,"v":0.15},{"k":"c","z":3.3,"v":-0.2},{"k":"c","z":3.1,"v":0.1},{"k":"c","z":2.9,"v":-0.2},{"k":"c","z":2.7,"v":0.15},{"k":"c","z":2.5,"v":-0.1},{"k":"c","z":2.3,"v":0.2},{"k":"c","z":2.1,"v":0.0},{"k":"c","z":1.9,"v":0.35},{"k":"c","z":1.7,"v":0.1},{"k":"c","z":1.55,"v":0.6},{"k":"c","z":1.4,"v":1.1},{"k":"c","z":1.3,"v":0.7},{"k":"c","z":1.2,"v":1.2},{"k":"c","z":1.1,"v":0.5},{"k":"c","z":1.0,"v":0.0},{"k":"c","z":0.9,"v":0.4},{"k":"c","z":0.8,"v":-0.2},{"k":"c","z":0.7,"v":0.2},{"k":"c","z":0.6,"v":-0.4},{"k":"c","z":0.5,"v":0.0},{"k":"c","z":0.4,"v":-0.5},{"k":"c","z":0.3,"v":-0.1},{"k":"c","z":0.2,"v":-0.6},{"k":"c","z":0.1,"v":-0.2},{"k":"c","z":0.02,"v":-0.5},
{"k":"d","z":8.32,"v":-0.3},{"k":"d","z":8.2,"v":0.0},{"k":"d","z":8.05,"v":-0.4},{"k":"d","z":7.9,"v":-0.1},{"k":"d","z":7.75,"v":-0.5},{"k":"d","z":7.6,"v":-0.2},{"k":"d","z":7.45,"v":-0.45},{"k":"d","z":7.3,"v":-0.15},{"k":"d","z":7.15,"v":-0.5},{"k":"d","z":7.0,"v":-0.25},{"k":"d","z":6.85,"v":-0.55},{"k":"d","z":6.7,"v":-0.2},{"k":"d","z":6.55,"v":-0.45},{"k":"d","z":6.4,"v":-0.1},{"k":"d","z":6.25,"v":-0.4},{"k":"d","z":6.1,"v":-0.05},{"k":"d","z":5.95,"v":-0.35},{"k":"d","z":5.8,"v":-0.6},{"k":"d","z":5.65,"v":-0.2},{"k":"d","z":5.5,"v":-0.4},{"k":"d","z":5.35,"v":-0.1},{"k":"d","z":5.2,"v":-0.55},{"k":"d","z":5.05,"v":-0.15},{"k":"d","z":4.9,"v":-0.7},{"k":"d","z":4.75,"v":-0.3},{"k":"d","z":4.6,"v":-0.05},{"k":"d","z":4.45,"v":-0.35},{"k":"d","z":4.3,"v":0.0},{"k":"d","z":4.15,"v":-0.25},{"k":"d","z":4.0,"v":0.1},{"k":"d","z":3.85,"v":-0.15},{"k":"d","z":3.7,"v":0.15},{"k":"d","z":3.55,"v":-0.2},{"k":"d","z":3.4,"v":0.05},{"k":"d","z":3.25,"v":-0.3},{"k":"d","z":3.1,"v":-0.05},{"k":"d","z":2.95,"v":-0.4},{"k":"d","z":2.8,"v":-0.1},{"k":"d","z":2.65,"v":-0.45},{"k":"d","z":2.5,"v":-0.2},{"k":"d","z":2.35,"v":-0.6},{"k":"d","z":2.2,"v":-0.35},{"k":"d","z":2.05,"v":-0.75},{"k":"d","z":1.9,"v":-0.5},{"k":"d","z":1.75,"v":-0.9},{"k":"d","z":1.6,"v":-1.1},{"k":"d","z":1.5,"v":-0.7},{"k":"d","z":1.4,"v":-0.95},{"k":"d","z":1.3,"v":-0.4},{"k":"d","z":1.2,"v":-0.7},{"k":"d","z":1.1,"v":-0.2},{"k":"d","z":1.0,"v":-0.5},{"k":"d","z":0.9,"v":-0.1},{"k":"d","z":0.8,"v":-0.45},{"k":"d","z":0.7,"v":-0.05},{"k":"d","z":0.6,"v":-0.4},{"k":"d","z":0.5,"v":0.0},{"k":"d","z":0.4,"v":-0.35},{"k":"d","z":0.3,"v":0.05},{"k":"d","z":0.2,"v":-0.3},{"k":"d","z":0.1,"v":-0.6},{"k":"d","z":0.02,"v":-1.2}
],
"VWdots": [
{"k":"a","z":0.93,"v":1.4},{"k":"a","z":0.93,"v":1.65},{"k":"a","z":0.93,"v":1.9},{"k":"a","z":0.93,"v":2.15},{"k":"a","z":0.93,"v":2.4},{"k":"a","z":0.93,"v":2.65},{"k":"a","z":0.93,"v":2.9},{"k":"a","z":0.93,"v":3.15},{"k":"a","z":0.93,"v":3.4},{"k":"a","z":0.93,"v":3.6},{"k":"a","z":0.93,"v":3.75},
{"k":"a","z":0.87,"v":3.8},{"k":"a","z":0.87,"v":3.6},{"k":"a","z":0.87,"v":3.45},{"k":"a","z":0.87,"v":3.3},{"k":"a","z":0.82,"v":3.7},{"k":"a","z":0.82,"v":3.5},{"k":"a","z":0.82,"v":3.3},
{"k":"a","z":0.73,"v":2.0},{"k":"a","z":0.73,"v":2.3},{"k":"a","z":0.73,"v":2.6},{"k":"a","z":0.73,"v":2.9},{"k":"a","z":0.73,"v":3.2},
{"k":"a","z":0.62,"v":0.8},{"k":"a","z":0.62,"v":1.05},{"k":"a","z":0.62,"v":1.3},{"k":"a","z":0.62,"v":1.55},{"k":"a","z":0.62,"v":1.8},{"k":"a","z":0.62,"v":2.05},{"k":"a","z":0.62,"v":2.3},{"k":"a","z":0.62,"v":2.55},{"k":"a","z":0.62,"v":2.8},{"k":"a","z":0.62,"v":3.05},{"k":"a","z":0.62,"v":3.25},
{"k":"a","z":0.4,"v":1.5},{"k":"a","z":0.4,"v":1.75},{"k":"a","z":0.4,"v":2.0},{"k":"a","z":0.4,"v":2.25},{"k":"a","z":0.4,"v":2.5},{"k":"a","z":0.4,"v":2.75},{"k":"a","z":0.4,"v":3.0},
{"k":"a","z":0.33,"v":1.6},{"k":"a","z":0.33,"v":1.85},{"k":"a","z":0.33,"v":2.1},{"k":"a","z":0.33,"v":2.35},{"k":"a","z":0.33,"v":2.6},{"k":"a","z":0.33,"v":2.85},{"k":"a","z":0.33,"v":3.1},
{"k":"a","z":0.25,"v":1.4},{"k":"a","z":0.25,"v":1.65},{"k":"a","z":0.25,"v":1.9},{"k":"a","z":0.25,"v":2.15},{"k":"a","z":0.25,"v":2.4},
{"k":"a","z":0.12,"v":0.9},{"k":"a","z":0.12,"v":1.2},{"k":"a","z":0.12,"v":1.5},{"k":"a","z":0.12,"v":1.8},{"k":"a","z":0.12,"v":2.05},
{"k":"b","z":0.53,"v":-1.0},{"k":"b","z":0.53,"v":-1.2},{"k":"b","z":0.53,"v":-1.4},{"k":"b","z":0.53,"v":-1.6},{"k":"b","z":0.53,"v":-1.8},{"k":"b","z":0.53,"v":-2.0},{"k":"b","z":0.53,"v":-2.1},
{"k":"b","z":0.68,"v":-1.0},{"k":"b","z":0.68,"v":-1.2},{"k":"b","z":0.68,"v":-1.4},
{"k":"b","z":0.3,"v":1.3},{"k":"b","z":0.3,"v":1.55},{"k":"b","z":0.3,"v":1.8},{"k":"b","z":0.3,"v":2.05},{"k":"b","z":0.3,"v":2.3},{"k":"b","z":0.3,"v":2.5},
{"k":"b","z":0.46,"v":1.2},{"k":"b","z":0.46,"v":1.45},{"k":"b","z":0.46,"v":1.7},{"k":"b","z":0.46,"v":1.95},{"k":"b","z":0.46,"v":2.2}
],
"band": [{"lo": -1, "hi": 1}]
},
"hconcat": [
{
 "width": 282.8, "height": 337.3,
 "layer": [
  {"data": {"name": "T"}, "mark": {"type": "line", "strokeWidth": 5.5, "strokeCap": "round", "strokeJoin": "round"},
   "encoding": {
    "x": {"field": "v", "type": "quantitative", "scale": {"domain": [-50, 30], "nice": false, "zero": false},
          "axis": {"orient": "bottom", "title": "Temperature [°C]", "values": [-50,-45,-40,-35,-30,-25,-20,-15,-10,-5,0,5,10,15,20,25,30], "labelExpr": "datum.value % 20 === 0 ? '' + datum.value : ''", "tickSize": {"condition": {"test": "datum.value % 20 === 0", "value": -8.5}, "value": -4.5}, "labelPadding": 31.9, "titleY": 71.5, "titleBaseline": "alphabetic"}},
    "y": {"field": "z", "type": "quantitative", "scale": {"domain": [0, 8.93], "nice": false, "zero": false},
          "axis": {"orient": "left", "title": "Altitude [km]", "values": [0,0.5,1,1.5,2,2.5,3,3.5,4,4.5,5,5.5,6,6.5,7,7.5,8,8.5], "labelExpr": "datum.value % 2 === 0 ? '' + datum.value : ''", "tickSize": {"condition": {"test": "datum.value % 2 === 0", "value": -8.5}, "value": -4.5}, "labelPadding": 16.2, "titleX": -46, "titleBaseline": "alphabetic", "titleAngle": 270}},
    "color": {"field": "k", "type": "nominal", "scale": {"domain": ["x","y","a","b","c","d"], "range": ["transparent","transparent","#0b20a0","#0f50d8","#1b8fe5","#16ccf4"]},
              "legend": {"title": null, "labelExpr": "datum.label == 'x' ? '29 March 2021' : datum.label == 'y' ? 'RF057' : datum.label == 'a' ? '15:42:34' : datum.label == 'b' ? '16:20:59' : datum.label == 'c' ? '17:09:09' : '17:56:00'", "encode": {"symbols": {"update": {"fill": {"scale": "color", "field": "value"}, "stroke": {"value": "transparent"}, "opacity": {"value": 1}}}}}},
    "order": {"field": "z", "type": "quantitative", "sort": "descending"}
   }},
  {"data": {"name": "T"}, "mark": {"type": "point", "opacity": 0},
   "encoding": {
    "x": {"field": "v", "type": "quantitative", "scale": {"domain": [-50, 30], "nice": false, "zero": false},
          "axis": {"orient": "top", "title": null, "labels": false, "values": [-50,-45,-40,-35,-30,-25,-20,-15,-10,-5,0,5,10,15,20,25,30], "tickSize": {"condition": {"test": "datum.value % 20 === 0", "value": -8.5}, "value": -4.5}}},
    "y": {"field": "z", "type": "quantitative", "scale": {"domain": [0, 8.93], "nice": false, "zero": false},
          "axis": {"orient": "right", "title": null, "labels": false, "values": [0,0.5,1,1.5,2,2.5,3,3.5,4,4.5,5,5.5,6,6.5,7,7.5,8,8.5], "tickSize": {"condition": {"test": "datum.value % 2 === 0", "value": -8.5}, "value": -4.5}}}
   }}
 ],
 "resolve": {"axis": {"x": "independent", "y": "independent"}}
},
{
 "width": 282.8, "height": 337.3,
 "layer": [
  {"data": {"name": "RH"}, "mark": {"type": "line", "strokeWidth": 5.5, "strokeCap": "round", "strokeJoin": "round"},
   "encoding": {
    "x": {"field": "v", "type": "quantitative", "scale": {"domain": [0, 100], "nice": false, "zero": false},
          "axis": {"orient": "bottom", "title": "RH [%]", "values": [0,5,10,15,20,25,30,35,40,45,50,55,60,65,70,75,80,85,90,95,100], "labelExpr": "datum.value % 20 === 0 && datum.value < 100 ? '' + datum.value : ''", "tickSize": {"condition": {"test": "datum.value % 20 === 0", "value": -8.5}, "value": -4.5}, "labelPadding": 31.9, "titleY": 71.5, "titleBaseline": "alphabetic"}},
    "y": {"field": "z", "type": "quantitative", "scale": {"domain": [0, 8.93], "nice": false, "zero": false},
          "axis": {"orient": "left", "title": null, "labels": false, "values": [0,0.5,1,1.5,2,2.5,3,3.5,4,4.5,5,5.5,6,6.5,7,7.5,8,8.5], "tickSize": {"condition": {"test": "datum.value % 2 === 0", "value": -8.5}, "value": -4.5}}},
    "color": {"field": "k", "type": "nominal", "scale": {"domain": ["x","y","a","b","c","d"], "range": ["transparent","transparent","#0b20a0","#0f50d8","#1b8fe5","#16ccf4"]}},
    "detail": {"field": "g", "type": "nominal"},
    "order": {"field": "z", "type": "quantitative", "sort": "descending"}
   }},
  {"data": {"name": "RHdots"}, "mark": {"type": "circle", "size": 22, "opacity": 1},
   "encoding": {
    "x": {"field": "v", "type": "quantitative", "scale": {"domain": [0, 100], "nice": false, "zero": false},
          "axis": {"orient": "top", "title": null, "labels": false, "values": [0,5,10,15,20,25,30,35,40,45,50,55,60,65,70,75,80,85,90,95,100], "tickSize": {"condition": {"test": "datum.value % 20 === 0", "value": -8.5}, "value": -4.5}}},
    "y": {"field": "z", "type": "quantitative", "scale": {"domain": [0, 8.93], "nice": false, "zero": false},
          "axis": {"orient": "right", "title": null, "labels": false, "values": [0,0.5,1,1.5,2,2.5,3,3.5,4,4.5,5,5.5,6,6.5,7,7.5,8,8.5], "tickSize": {"condition": {"test": "datum.value % 2 === 0", "value": -8.5}, "value": -4.5}}},
    "color": {"field": "k", "type": "nominal", "scale": {"domain": ["x","y","a","b","c","d"], "range": ["transparent","transparent","#0b20a0","#0f50d8","#1b8fe5","#16ccf4"]}}
   }}
 ],
 "resolve": {"axis": {"x": "independent", "y": "independent"}}
},
{
 "width": 282.8, "height": 337.3,
 "layer": [
  {"data": {"name": "WS"}, "mark": {"type": "line", "strokeWidth": 5.5, "strokeCap": "round", "strokeJoin": "round"},
   "encoding": {
    "x": {"field": "v", "type": "quantitative", "scale": {"domain": [0, 80], "nice": false, "zero": false},
          "axis": {"orient": "bottom", "title": "Wind Speed [m/s]", "values": [0,5,10,15,20,25,30,35,40,45,50,55,60,65,70,75,80], "labelExpr": "datum.value % 20 === 0 && datum.value < 80 ? '' + datum.value : ''", "tickSize": {"condition": {"test": "datum.value % 20 === 0", "value": -8.5}, "value": -4.5}, "labelPadding": 31.9, "titleY": 71.5, "titleBaseline": "alphabetic"}},
    "y": {"field": "z", "type": "quantitative", "scale": {"domain": [0, 8.93], "nice": false, "zero": false},
          "axis": {"orient": "left", "title": null, "labels": false, "values": [0,0.5,1,1.5,2,2.5,3,3.5,4,4.5,5,5.5,6,6.5,7,7.5,8,8.5], "tickSize": {"condition": {"test": "datum.value % 2 === 0", "value": -8.5}, "value": -4.5}}},
    "color": {"field": "k", "type": "nominal", "scale": {"domain": ["x","y","a","b","c","d"], "range": ["transparent","transparent","#0b20a0","#0f50d8","#1b8fe5","#16ccf4"]}},
    "order": {"field": "z", "type": "quantitative", "sort": "descending"}
   }},
  {"data": {"name": "WS"}, "mark": {"type": "point", "opacity": 0},
   "encoding": {
    "x": {"field": "v", "type": "quantitative", "scale": {"domain": [0, 80], "nice": false, "zero": false},
          "axis": {"orient": "top", "title": null, "labels": false, "values": [0,5,10,15,20,25,30,35,40,45,50,55,60,65,70,75,80], "tickSize": {"condition": {"test": "datum.value % 20 === 0", "value": -8.5}, "value": -4.5}}},
    "y": {"field": "z", "type": "quantitative", "scale": {"domain": [0, 8.93], "nice": false, "zero": false},
          "axis": {"orient": "right", "title": null, "labels": false, "values": [0,0.5,1,1.5,2,2.5,3,3.5,4,4.5,5,5.5,6,6.5,7,7.5,8,8.5], "tickSize": {"condition": {"test": "datum.value % 2 === 0", "value": -8.5}, "value": -4.5}}}
   }}
 ],
 "resolve": {"axis": {"x": "independent", "y": "independent"}}
},
{
 "width": 282.8, "height": 337.3,
 "layer": [
  {"data": {"name": "band"}, "mark": {"type": "rect", "color": "#c0c0c0"},
   "encoding": {
    "x": {"field": "lo", "type": "quantitative", "scale": {"domain": [-5, 5], "nice": false, "zero": false},
          "axis": {"orient": "bottom", "title": "Vertical Wind [m/s]", "values": [-5,-4.5,-4,-3.5,-3,-2.5,-2,-1.5,-1,-0.5,0,0.5,1,1.5,2,2.5,3,3.5,4,4.5,5], "labelExpr": "datum.value % 2 === 0 ? '' + datum.value : ''", "tickSize": {"condition": {"test": "datum.value % 2 === 0", "value": -8.5}, "value": -4.5}, "labelPadding": 31.9, "titleY": 71.5, "titleBaseline": "alphabetic"}},
    "x2": {"field": "hi"}
   }},
  {"data": {"name": "VW"}, "mark": {"type": "line", "strokeWidth": 7.5, "strokeCap": "round", "strokeJoin": "round"},
   "encoding": {
    "x": {"field": "v", "type": "quantitative", "scale": {"domain": [-5, 5], "nice": false, "zero": false}, "axis": null},
    "y": {"field": "z", "type": "quantitative", "scale": {"domain": [0, 8.93], "nice": false, "zero": false},
          "axis": {"orient": "left", "title": null, "labels": false, "values": [0,0.5,1,1.5,2,2.5,3,3.5,4,4.5,5,5.5,6,6.5,7,7.5,8,8.5], "tickSize": {"condition": {"test": "datum.value % 2 === 0", "value": -8.5}, "value": -4.5}}},
    "color": {"field": "k", "type": "nominal", "scale": {"domain": ["x","y","a","b","c","d"], "range": ["transparent","transparent","#0b20a0","#0f50d8","#1b8fe5","#16ccf4"]}},
    "order": {"field": "z", "type": "quantitative", "sort": "descending"}
   }},
  {"data": {"name": "VWdots"}, "mark": {"type": "circle", "size": 28, "opacity": 1},
   "encoding": {
    "x": {"field": "v", "type": "quantitative", "scale": {"domain": [-5, 5], "nice": false, "zero": false},
          "axis": {"orient": "top", "title": null, "labels": false, "values": [-5,-4.5,-4,-3.5,-3,-2.5,-2,-1.5,-1,-0.5,0,0.5,1,1.5,2,2.5,3,3.5,4,4.5,5], "tickSize": {"condition": {"test": "datum.value % 2 === 0", "value": -8.5}, "value": -4.5}}},
    "y": {"field": "z", "type": "quantitative", "scale": {"domain": [0, 8.93], "nice": false, "zero": false},
          "axis": {"orient": "right", "title": null, "labels": false, "values": [0,0.5,1,1.5,2,2.5,3,3.5,4,4.5,5,5.5,6,6.5,7,7.5,8,8.5], "tickSize": {"condition": {"test": "datum.value % 2 === 0", "value": -8.5}, "value": -4.5}}},
    "color": {"field": "k", "type": "nominal", "scale": {"domain": ["x","y","a","b","c","d"], "range": ["transparent","transparent","#0b20a0","#0f50d8","#1b8fe5","#16ccf4"]}}
   }}
 ],
 "resolve": {"axis": {"x": "independent", "y": "independent"}}
}
]
}
